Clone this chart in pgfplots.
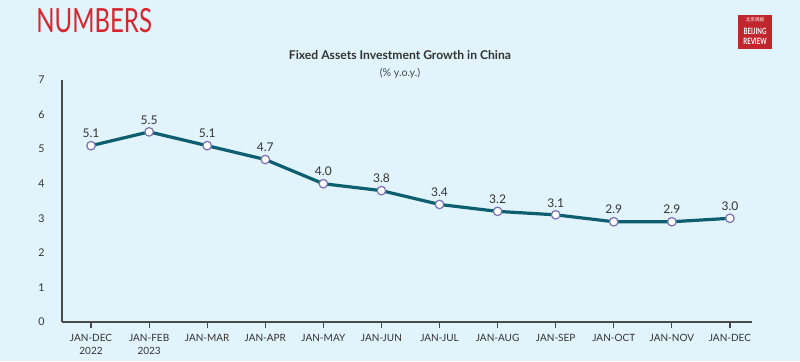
\documentclass[border=0pt]{standalone}
\usepackage{pgfplots}
\pgfplotsset{compat=1.18}
\usepackage{fontspec}
\setmainfont{Lato}
\newfontfamily\cjk{Noto Sans CJK SC}
\definecolor{bg}{HTML}{E1F3FB}
\definecolor{linec}{HTML}{0D5F6F}
\definecolor{markc}{HTML}{7A6EB5}
\definecolor{redc}{HTML}{D9262E}
\definecolor{logored}{HTML}{C0272D}
\definecolor{txt}{HTML}{333333}
\definecolor{axc}{HTML}{4A4A4A}
\begin{document}
\begin{tikzpicture}[x=0.75pt,y=0.75pt]
\fill[bg] (0,0) rectangle (800,361);
% header
\node[anchor=west,inner sep=0,text=redc] at (36,340) {\scalebox{0.72}[1]{\fontsize{25}{25}\selectfont NUMBERS}};
\fill[logored] (738,312) rectangle (772,346);
\node[text=white,inner sep=0] at (755,341) {\cjk\fontsize{3.5}{3.5}\selectfont 北京周报};
\node[text=white,inner sep=0] at (755,330) {\scalebox{0.7}[1]{\fontsize{6.5}{6.5}\selectfont\bfseries BEIJING}};
\node[text=white,inner sep=0] at (755,319.5) {\scalebox{0.7}[1]{\fontsize{6.5}{6.5}\selectfont\bfseries REVIEW}};
\node[text=txt,inner sep=0] at (400,306) {\fontsize{9.1}{10}\selectfont\bfseries Fixed Assets Investment Growth in China};
\node[text=txt!90,inner sep=0] at (400,288) {\fontsize{8}{9}\selectfont (\% y.o.y.)};
\begin{axis}[
  at={(46.5pt,29.25pt)}, anchor=south west,
  scale only axis, width=517.5pt, height=181.5pt,
  xmin=-0.5, xmax=11.38, ymin=0, ymax=7,
  axis x line=bottom, axis y line=left,
  axis line style={axc, line width=0.9pt, -},
  xtick={0,...,11},
  xticklabels={{JAN-DEC\\2022},{JAN-FEB\\2023},JAN-MAR,JAN-APR,JAN-MAY,JAN-JUN,JAN-JUL,JAN-AUG,JAN-SEP,JAN-OCT,JAN-NOV,JAN-DEC},
  xticklabel style={align=center, font=\fontsize{7.5}{9.5}\selectfont, text=txt, yshift=-1.5pt},
  x tick style={axc, line width=0.9pt},
  tick align=outside, major tick length=4.5pt,
  ytick={0,...,7},
  y tick style={draw=none},
  yticklabel style={font=\fontsize{8}{9}\selectfont, text=txt},
  yticklabel shift=5pt,
  /pgf/number format/assume math mode=true,
  nodes near coords,
  nodes near coords style={font=\fontsize{9}{10}\selectfont, text=txt, yshift=2pt,
    /pgf/number format/fixed, /pgf/number format/fixed zerofill, /pgf/number format/precision=1},
  clip=false,
]
\addplot[linec, line width=2.4pt, mark=*, mark size=3.2pt,
  mark options={fill=white, draw=markc, line width=0.9pt}]
coordinates {(0,5.1) (1,5.5) (2,5.1) (3,4.7) (4,4.0) (5,3.8) (6,3.4) (7,3.2) (8,3.1) (9,2.9) (10,2.9) (11,3.0)};
\end{axis}
\end{tikzpicture}
\end{document}
